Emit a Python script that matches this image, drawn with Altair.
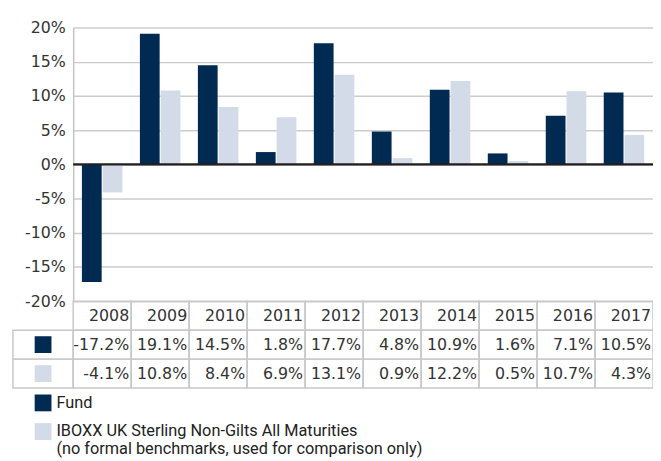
import altair as alt
import pandas as pd

# ---------------- data ----------------
years = ["2008", "2009", "2010", "2011", "2012", "2013", "2014", "2015", "2016", "2017"]
fund = [-17.2, 19.1, 14.5, 1.8, 17.7, 4.8, 10.9, 1.6, 7.1, 10.5]
bench = [-4.1, 10.8, 8.4, 6.9, 13.1, 0.9, 12.2, 0.5, 10.7, 4.3]
series_keys = ["fund", "bench"]
series_names = ["Fund", "IBOXX UK Sterling Non-Gilts All Maturities"]
series_note = "(no formal benchmarks, used for comparison only)"
y_ticks = [-20, -15, -10, -5, 0, 5, 10, 15, 20]
table_rows = ["year", "fund", "bench"]

# ---------------- styles ----------------
colors = ["#012a52", "#d3dbe8"]
grid_col = "#cccccc"
cell_col = "#c8c8c8"
text_col = "#333333"
W, H = 587, 435
bar_range = [277, 0]
table_range = [277, 365]
legend_range = [380, 409]
icon_range = [-61, 0]

# ---------------- tables ----------------
bars_df = pd.DataFrame({
    "year": years * 2,
    "series": ["fund"] * len(years) + ["bench"] * len(years),
    "value": fund + bench,
})

cell_rows = []
for i, yr in enumerate(years):
    cell_rows.append({"year": yr, "row": "year", "label": yr})
    cell_rows.append({"year": yr, "row": "fund", "label": f"{fund[i]:.1f}%"})
    cell_rows.append({"year": yr, "row": "bench", "label": f"{bench[i]:.1f}%"})
cells_df = pd.DataFrame(cell_rows)

icons_df = pd.DataFrame({"col": ["icon", "icon"], "row": series_keys, "series": series_keys})
legend_df = pd.DataFrame({"col": ["icon", "icon"], "item": series_keys,
                          "series": series_keys, "label": series_names})
note_df = pd.DataFrame({"col": ["icon"], "item": ["bench"], "label": [series_note]})

# ---------------- scales ----------------
def year_scale():
    return alt.Scale(type="band", domain=years, paddingInner=0, paddingOuter=0)

val_scale = alt.Scale(domain=[-20, 20], range=bar_range, nice=False, zero=False)

def row_scale():
    return alt.Scale(type="band", domain=table_rows, range=table_range, paddingInner=0, paddingOuter=0)

def icon_scale():
    return alt.Scale(type="band", domain=["icon"], range=icon_range, paddingInner=0, paddingOuter=0)

leg_scale = alt.Scale(type="point", domain=series_keys, range=legend_range, padding=0)
color_enc = alt.Color("series:N", scale=alt.Scale(domain=series_keys, range=colors), legend=None)

bars = alt.Chart(bars_df).mark_bar().encode(
    x=alt.X("year:N", scale=year_scale(), axis=None),
    xOffset=alt.XOffset("series:N", scale=alt.Scale(domain=series_keys, paddingInner=0.05, paddingOuter=0.42)),
    y=alt.Y("value:Q", scale=val_scale, axis=alt.Axis(
        values=y_ticks, labelExpr="datum.value + '%'", grid=True, gridColor=grid_col,
        gridWidth=1.5, domain=True, domainColor="#c4c4c4", domainWidth=1.5, ticks=False,
        labelPadding=8, labelFontSize=16, labelFont="DejaVu Sans", labelColor=text_col,
        title=None)),
    color=color_enc,
)

zero = alt.Chart(pd.DataFrame({"v": [0]})).mark_rule(color="#231f20", strokeWidth=2.5).encode(
    y=alt.Y("v:Q", scale=val_scale, axis=None)
)

cells = alt.Chart(cells_df).mark_rect(filled=False, stroke=cell_col, strokeWidth=1.5, opacity=1).encode(
    x=alt.X("year:N", scale=year_scale(), axis=None),
    y=alt.Y("row:N", scale=row_scale(), axis=None),
)

cell_text = alt.Chart(cells_df).mark_text(
    align="right", baseline="middle", dx=-2, font="DejaVu Sans", fontSize=16, color=text_col
).encode(
    x=alt.X("year:N", scale=year_scale(), axis=None, bandPosition=1),
    y=alt.Y("row:N", scale=row_scale(), axis=None),
    text="label:N",
)

icon_cells = alt.Chart(icons_df).mark_rect(filled=False, stroke=cell_col, strokeWidth=1.5, opacity=1).encode(
    x=alt.X("col:N", scale=icon_scale(), axis=None),
    y=alt.Y("row:N", scale=row_scale(), axis=None),
)

icon_sq = alt.Chart(icons_df).mark_square(size=289, opacity=1).encode(
    x=alt.X("col:N", scale=icon_scale(), axis=None),
    y=alt.Y("row:N", scale=row_scale(), axis=None),
    color=color_enc,
)

leg_sq = alt.Chart(legend_df).mark_square(size=289, opacity=1).encode(
    x=alt.X("col:N", scale=icon_scale(), axis=None),
    y=alt.Y("item:N", scale=leg_scale, axis=None),
    color=color_enc,
)

leg_txt = alt.Chart(legend_df).mark_text(
    align="left", baseline="middle", dx=13.5, font="Roboto", fontSize=16.5, color="#222222"
).encode(
    x=alt.X("col:N", scale=icon_scale(), axis=None),
    y=alt.Y("item:N", scale=leg_scale, axis=None),
    text="label:N",
)

note_txt = alt.Chart(note_df).mark_text(
    align="left", baseline="middle", dx=13.5, dy=17.5, font="Roboto", fontSize=16.5, color="#222222"
).encode(
    x=alt.X("col:N", scale=icon_scale(), axis=None),
    y=alt.Y("item:N", scale=leg_scale, axis=None),
    text="label:N",
)

chart = alt.layer(
    bars, zero, cells, cell_text, icon_cells, icon_sq, leg_sq, leg_txt, note_txt
).resolve_scale(
    x="independent", y="independent"
).properties(
    width=W, height=H,
    autosize=alt.AutoSizeParams(type="none"),
    padding={"left": 66, "top": 17, "right": 0, "bottom": 1},
).configure_view(stroke=None)

chart.save("out.html", embed_options={"renderer": "svg", "actions": False})
